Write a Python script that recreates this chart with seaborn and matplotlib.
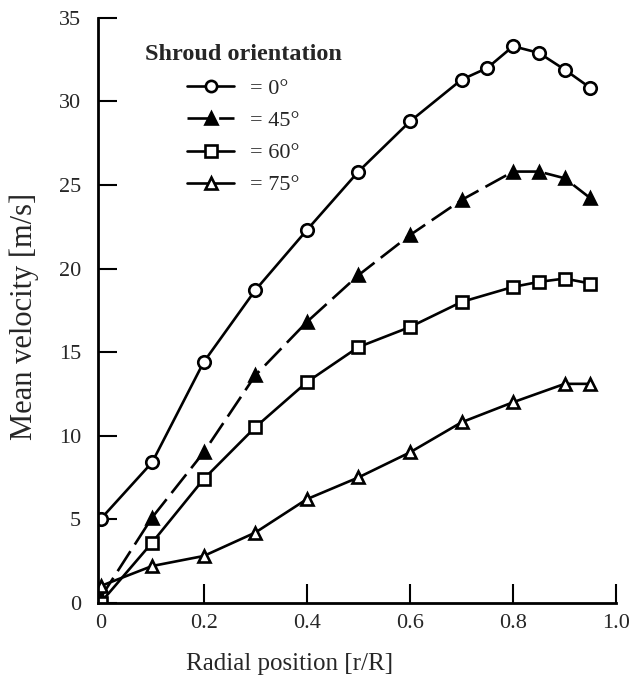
import seaborn as sns
import pandas as pd
import matplotlib.pyplot as plt

# radial positions and mean velocities
x_0 = [0, 0.1, 0.2, 0.3, 0.4, 0.5, 0.6, 0.7, 0.75, 0.8, 0.85, 0.9, 0.95]
v_0 = [5.0, 8.4, 14.4, 18.7, 22.3, 25.8, 28.8, 31.3, 32.0, 33.3, 32.9, 31.9, 30.8]

x_45 = [0, 0.1, 0.2, 0.3, 0.4, 0.5, 0.6, 0.7, 0.8, 0.85, 0.9, 0.95]
v_45 = [0.3, 5.1, 9.0, 13.6, 16.8, 19.6, 22.0, 24.1, 25.8, 25.8, 25.4, 24.2]

x_60 = [0, 0.1, 0.2, 0.3, 0.4, 0.5, 0.6, 0.7, 0.8, 0.85, 0.9, 0.95]
v_60 = [0.0, 3.6, 7.4, 10.5, 13.2, 15.3, 16.5, 18.0, 18.9, 19.2, 19.4, 19.1]

x_75 = [0, 0.1, 0.2, 0.3, 0.4, 0.5, 0.6, 0.7, 0.8, 0.9, 0.95]
v_75 = [1.0, 2.2, 2.8, 4.2, 6.2, 7.5, 9.0, 10.8, 12.0, 13.1, 13.1]

labels = ["= 0°", "= 45°", "= 60°", "= 75°"]

sns.set_style("white")
plt.rcParams['font.family'] = ['Liberation Serif', 'DejaVu Serif']

fig = plt.figure(figsize=(6.36, 6.85), dpi=100)
ax = fig.add_axes([0.154, 0.12, 0.815, 0.854])

common = dict(color="black", linewidth=1.9, markersize=9, markeredgewidth=1.9,
              markeredgecolor="black", errorbar=None, ax=ax)

sns.lineplot(x=x_0, y=v_0, marker="o", markerfacecolor="white", label=labels[0], **common)
sns.lineplot(x=x_45, y=v_45, marker="^", markerfacecolor="black", label=labels[1],
             linestyle=(0, (9, 3)), **common)
sns.lineplot(x=x_60, y=v_60, marker="s", markerfacecolor="white", label=labels[2], **common)
sns.lineplot(x=x_75, y=v_75, marker="^", markerfacecolor="white", label=labels[3], **common)

ax.set_xlim(-0.005, 1.0)
ax.set_ylim(0, 35)
ax.set_xticks([0, 0.2, 0.4, 0.6, 0.8, 1.0])
ax.set_xticklabels(["0", "0.2", "0.4", "0.6", "0.8", "1.0"])
ax.set_yticks(range(0, 36, 5))
ax.tick_params(direction="in", length=14, width=1.5, labelsize=16, color="black",
               bottom=True, left=True)
ax.tick_params(axis="y", pad=12)
ax.tick_params(axis="x", pad=8)

for side in ["top", "right"]:
    ax.spines[side].set_visible(False)
for side in ["left", "bottom"]:
    ax.spines[side].set_color("black")
    ax.spines[side].set_linewidth(2)

ax.set_xlabel("Radial position [r/R]", fontsize=18)
ax.set_ylabel("Mean velocity [m/s]", fontsize=22)
ax.xaxis.set_label_coords(0.37, -0.085)
ax.yaxis.set_label_coords(-0.113, 0.49)

leg = ax.legend(title="Shroud orientation", loc="upper left", bbox_to_anchor=(0.052, 0.99),
                frameon=False, fontsize=16, handlelength=2.1, handletextpad=0.7,
                labelspacing=0.52, markerscale=0.9)
leg.get_title().set_fontweight("bold")
leg.get_title().set_fontsize(17.5)
leg._legend_box.sep = 10

fig.savefig("out.png", dpi=100)
